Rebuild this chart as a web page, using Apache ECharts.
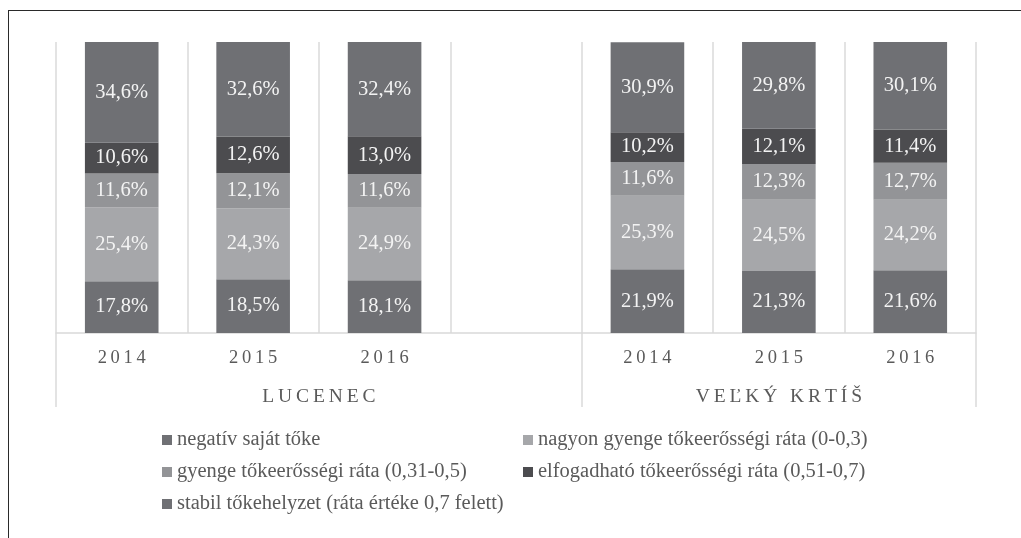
<!DOCTYPE html>
<html>
<head>
<meta charset="utf-8">
<script src="https://cdn.jsdelivr.net/npm/echarts@6/dist/echarts.min.js"></script>
<style>
  html, body { margin: 0; padding: 0; background: #fff; overflow: hidden; }
  #main { width: 1021px; height: 538px; position: relative; }
  .frame { position: absolute; left: 8px; top: 10px; right: -20px; bottom: -20px; border: 1.5px solid #2a2a2a; pointer-events: none; }
</style>
</head>
<body>
<div id="main"></div>
<div class="frame"></div>
<script>
// kategóriák (üres hely a két járás között)
const years = ['2014', '2015', '2016', '', '2014', '2015', '2016']
const groups = ['LUCENEC', 'VEĽKÝ KRTÍŠ']
const groupSizes = [4, 3]

const seriesNames = [
  'negatív saját tőke',
  'nagyon gyenge tőkeerősségi ráta (0-0,3)',
  'gyenge tőkeerősségi ráta (0,31-0,5)',
  'elfogadható tőkeerősségi ráta (0,51-0,7)',
  'stabil tőkehelyzet (ráta értéke 0,7 felett)'
]
const negativ = [17.8, 18.5, 18.1, '-', 21.9, 21.3, 21.6]
const nagyonGyenge = [25.4, 24.3, 24.9, '-', 25.3, 24.5, 24.2]
const gyenge = [11.6, 12.1, 11.6, '-', 11.6, 12.3, 12.7]
const elfogadhato = [10.6, 12.6, 13.0, '-', 10.2, 12.1, 11.4]
const stabil = [34.6, 32.6, 32.4, '-', 30.9, 29.8, 30.1]

const colors = ['#6f7074', '#a6a7aa', '#939497', '#4c4c4f', '#6f7074']
const serif = '"Liberation Serif", "DejaVu Serif", serif'

// csoporthatárok és középpontok a kategóriák számából
let groupEdges = [0]
let groupCenters = []
groupSizes.forEach(n => {
  let start = groupEdges[groupEdges.length - 1]
  groupCenters.push(start + n / 2)
  groupEdges.push(start + n)
})

const spaced = s => s.split('').join('\u2009')

let chart = echarts.init(document.getElementById('main'))
let data = [negativ, nagyonGyenge, gyenge, elfogadhato, stabil]

let legendText = { fontFamily: serif, fontSize: 20.5, lineHeight: 22, color: '#5a5a5a' }

chart.setOption({
  animation: false,
  color: colors,
  grid: { left: 56, right: 45, top: 42, bottom: 205 },
  legend: [
    {
      orient: 'vertical',
      left: 157,
      top: 424,
      itemWidth: 10,
      itemHeight: 10,
      itemGap: 10,
      icon: 'rect',
      data: [seriesNames[0], seriesNames[2], seriesNames[4]],
      textStyle: legendText
    },
    {
      orient: 'vertical',
      left: 518,
      top: 424,
      itemWidth: 10,
      itemHeight: 10,
      itemGap: 10,
      icon: 'rect',
      data: [seriesNames[1], seriesNames[3]],
      textStyle: legendText
    }
  ],
  xAxis: [
    {
      type: 'category',
      data: years,
      axisLine: { lineStyle: { color: '#d9d9d9', width: 1.5 } },
      axisTick: { show: false, interval: 0 },
      axisLabel: {
        interval: 0,
        margin: 16,
        fontFamily: serif,
        fontSize: 18.5,
        color: '#5a5a5a',
        formatter: v => spaced(v)
      },
      splitLine: { show: true, interval: 0, lineStyle: { color: '#dadada', width: 1.5 } }
    },
    {
      type: 'value',
      min: 0,
      max: years.length,
      position: 'bottom',
      axisLine: { show: false },
      splitLine: { show: false },
      axisTick: {
        show: true,
        customValues: groupEdges,
        length: 74,
        lineStyle: { color: '#dadada', width: 1.5 }
      },
      axisLabel: {
        customValues: groupCenters,
        margin: 54,
        fontFamily: serif,
        fontSize: 19.5,
        color: '#5a5a5a',
        formatter: v => spaced(groups[groupCenters.indexOf(v)] || '')
      }
    }
  ],
  yAxis: { type: 'value', min: 0, max: 100, show: false },
  series: seriesNames.map((name, i) => ({
    name: name,
    type: 'bar',
    stack: 'total',
    xAxisIndex: 0,
    barWidth: '56%',
    data: data[i],
    label: {
      show: true,
      position: 'inside',
      fontFamily: serif,
      fontSize: 20.5,
      color: '#f3f3f3',
      formatter: p => p.value.toFixed(1).replace('.', ',') + '%'
    }
  }))
})
</script>
</body>
</html>
